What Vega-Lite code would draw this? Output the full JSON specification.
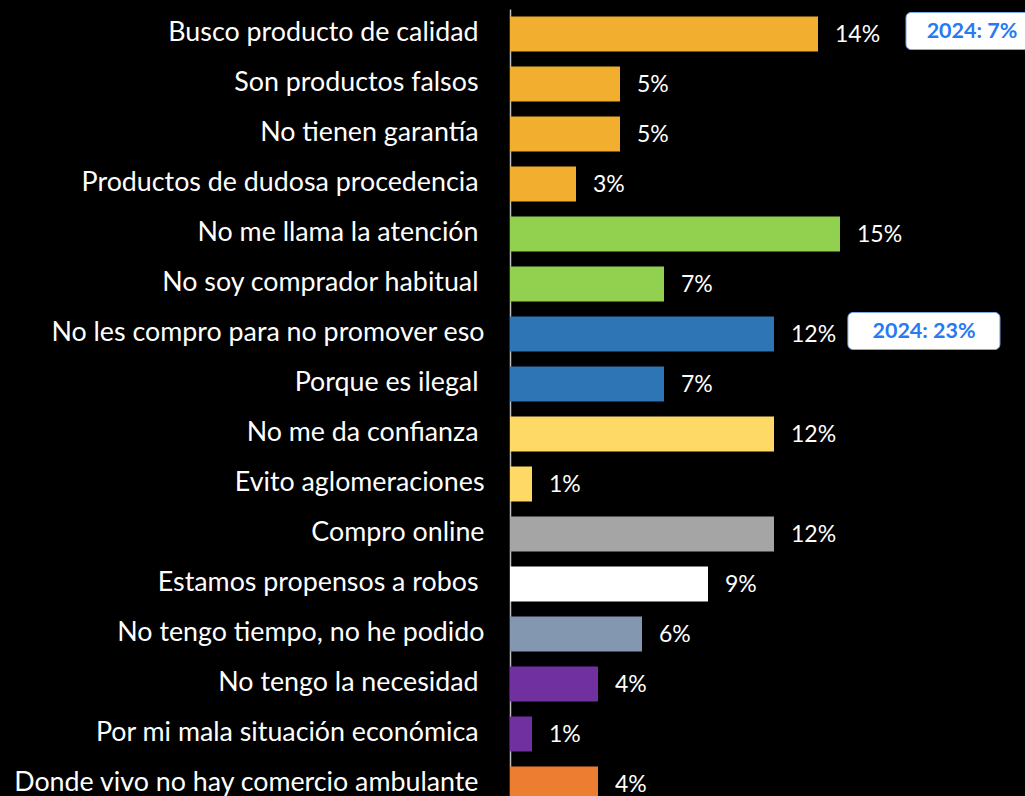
{
  "$schema": "https://vega.github.io/schema/vega-lite/v6.json",
  "width": 440,
  "height": 800,
  "autosize": "none",
  "padding": {"left": 510, "top": 9, "right": 75, "bottom": 0},
  "background": "#000000",
  "config": {"view": {"stroke": null}, "font": "Lato"},
  "datasets": {
    "bars": [
      {"q": "Busco producto de calidad", "v": 0.14, "g": "calidad"},
      {"q": "Son productos falsos", "v": 0.05, "g": "calidad"},
      {"q": "No tienen garantía", "v": 0.05, "g": "calidad"},
      {"q": "Productos de dudosa procedencia", "v": 0.03, "g": "calidad"},
      {"q": "No me llama la atención", "v": 0.15, "g": "interes"},
      {"q": "No soy comprador habitual", "v": 0.07, "g": "interes"},
      {"q": "No les compro para no promover eso", "v": 0.12, "g": "etica"},
      {"q": "Porque es ilegal", "v": 0.07, "g": "etica"},
      {"q": "No me da confianza", "v": 0.12, "g": "confianza"},
      {"q": "Evito aglomeraciones", "v": 0.01, "g": "confianza"},
      {"q": "Compro online", "v": 0.12, "g": "online"},
      {"q": "Estamos propensos a robos", "v": 0.09, "g": "robos"},
      {"q": "No tengo tiempo, no he podido", "v": 0.06, "g": "tiempo"},
      {"q": "No tengo la necesidad", "v": 0.04, "g": "necesidad"},
      {"q": "Por mi mala situación económica", "v": 0.01, "g": "necesidad"},
      {"q": "Donde vivo no hay comercio ambulante", "v": 0.04, "g": "ambulante"}
    ],
    "notes": [
      {"q": "Busco producto de calidad", "x0": 0.18, "x1": 0.24, "xc": 0.21, "t": "2024: 7%"},
      {"q": "No les compro para no promover eso", "x0": 0.1536, "x1": 0.2227, "xc": 0.1882, "t": "2024: 23%"}
    ]
  },
  "encoding": {
    "y": {
      "field": "q",
      "type": "nominal",
      "sort": null,
      "scale": {"paddingInner": 0.3, "paddingOuter": 0.15},
      "axis": {
        "title": null,
        "ticks": false,
        "tickSize": 0,
        "labelPadding": {
          "condition": {"test": "indexof(['No les compro para no promover eso', 'Evito aglomeraciones', 'Compro online', 'No tengo tiempo, no he podido'], datum.value) >= 0", "value": 26},
          "value": 32
        },
        "labelOffset": -1,
        "labelFontSize": 26.8,
        "labelColor": "#ffffff",
        "labelFont": "Lato",
        "labelLimit": 600,
        "domainColor": "#bfbfbf",
        "domainWidth": 1.5
      }
    }
  },
  "layer": [
    {
      "data": {"name": "bars"},
      "mark": {"type": "bar"},
      "encoding": {
        "x": {"field": "v", "type": "quantitative", "scale": {"domain": [0, 0.2]}, "axis": null},
        "color": {
          "field": "g",
          "type": "nominal",
          "legend": null,
          "scale": {
            "domain": ["calidad", "interes", "etica", "confianza", "online", "robos", "tiempo", "necesidad", "ambulante"],
            "range": ["#F2AF2F", "#92D050", "#2E75B6", "#FFD966", "#A5A5A5", "#FFFFFF", "#8497B0", "#7030A0", "#ED7D31"]
          }
        }
      }
    },
    {
      "data": {"name": "bars"},
      "mark": {"type": "text", "align": "left", "baseline": "middle", "dx": 17, "dy": 1, "fontSize": 23, "color": "#ffffff", "font": "Lato"},
      "encoding": {
        "x": {"field": "v", "type": "quantitative"},
        "text": {"field": "v", "type": "quantitative", "format": ".0%"}
      }
    },
    {
      "data": {"name": "notes"},
      "mark": {"type": "bar", "size": 37, "yOffset": -3, "fill": "#ffffff", "stroke": "#7FA8EE", "strokeWidth": 1, "cornerRadius": 5},
      "encoding": {
        "x": {"field": "x0", "type": "quantitative"},
        "x2": {"field": "x1"}
      }
    },
    {
      "data": {"name": "notes"},
      "mark": {"type": "text", "align": "center", "baseline": "middle", "dy": -2, "fontSize": 21.5, "fontWeight": "bold", "color": "#2979F2", "font": "Lato"},
      "encoding": {
        "x": {"field": "xc", "type": "quantitative"},
        "text": {"field": "t"}
      }
    }
  ]
}
